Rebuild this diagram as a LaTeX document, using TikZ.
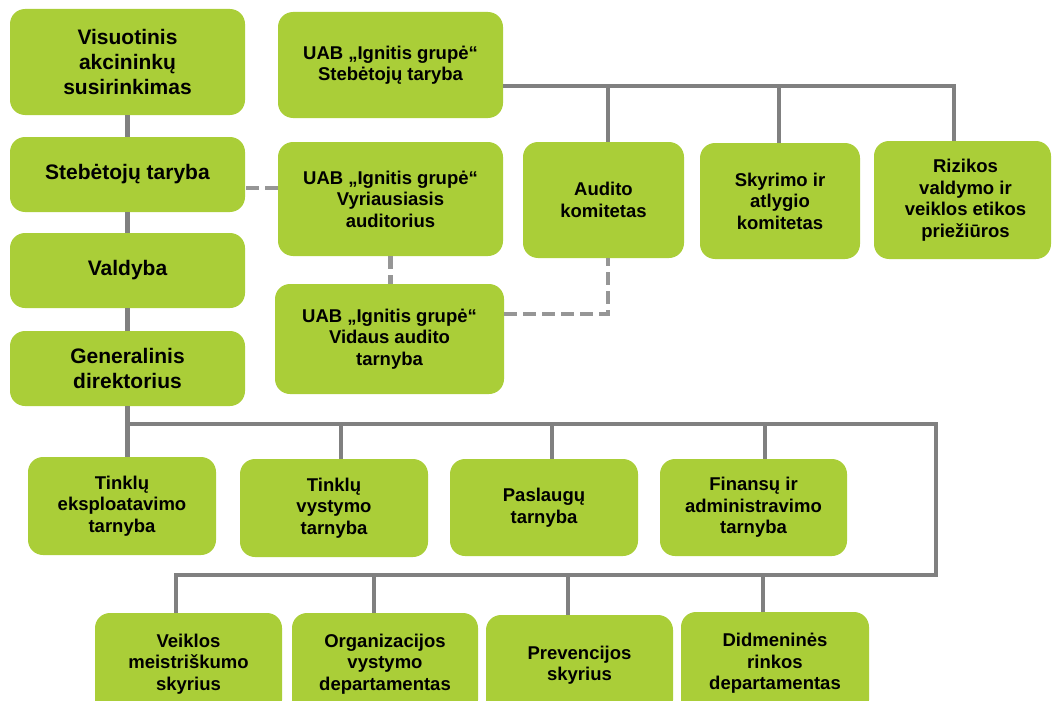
\documentclass[tikz,border=0pt]{standalone}
\usepackage{fontspec}
\setmainfont{Liberation Sans}
\definecolor{boxgreen}{RGB}{170,206,56}
\definecolor{linegray}{RGB}{128,128,128}
\definecolor{dashgray}{RGB}{150,150,150}
\begin{document}
\begin{tikzpicture}[x=1pt,y=-1pt,
  box/.style={fill=boxgreen, rounded corners=15pt, align=center, inner sep=0pt, text=black,
    font=\fontsize{18.5}{21.5}\selectfont\bfseries},
  bigbox/.style={box, font=\fontsize{21}{25}\selectfont\bfseries},
  conn/.style={draw=linegray, line width=4.5pt},
  dsh/.style={draw=dashgray, line width=4.5pt, dash pattern=on 13pt off 6pt}]
\useasboundingbox (0,0) rectangle (1052,701);
\clip (0,0) rectangle (1052,701);
% left column
\node[bigbox, minimum width=235, minimum height=106] (vis) at (127.5,62) {Visuotinis\\akcininkų\\susirinkimas};
\node[bigbox, minimum width=235, minimum height=75] (stt) at (127.5,174.5) {Stebėtojų taryba};
\node[bigbox, minimum width=235, minimum height=75] (val) at (127.5,270.5) {Valdyba};
\node[bigbox, minimum width=235, minimum height=75] (gen) at (127.5,368.5) {Generalinis\\direktorius};
% group boxes
\node[box, minimum width=225, minimum height=106] (ust) at (390.5,65) {UAB „Ignitis grupė“\\Stebėtojų taryba};
\node[box, minimum width=225, minimum height=114] (vyr) at (390.5,199) {UAB „Ignitis grupė“\\Vyriausiasis\\auditorius};
\node[box, minimum width=229, minimum height=110] (vid) at (389.5,339) {UAB „Ignitis grupė“\\Vidaus audito\\tarnyba};
% committees
\node[box, minimum width=161, minimum height=116] (aud) at (603.5,200) {Audito\\komitetas};
\node[box, minimum width=160, minimum height=116] (sky) at (780,201) {Skyrimo ir\\atlygio\\komitetas};
\node[box, minimum width=177, minimum height=118] (riz) at (962.5,200) {\hspace*{6pt}Rizikos\\\hspace*{6pt}valdymo ir\\\hspace*{6pt}veiklos etikos\\\hspace*{6pt}priežiūros};
% row 2
\node[box, minimum width=188, minimum height=98] (r2a) at (122,506) {Tinklų\\eksploatavimo\\tarnyba};
\node[box, minimum width=188, minimum height=98] (r2b) at (334,508) {Tinklų\\vystymo\\tarnyba};
\node[box, minimum width=188, minimum height=97] (r2c) at (544,507.5) {Paslaugų\\tarnyba};
\node[box, minimum width=187, minimum height=97] (r2d) at (753.5,507.5) {Finansų ir\\administravimo\\tarnyba};
% row 3
\node[box, minimum width=187, minimum height=102] (r3a) at (188.5,664) {Veiklos\\meistriškumo\\skyrius};
\node[box, minimum width=186, minimum height=102] (r3b) at (385,664) {Organizacijos\\vystymo\\departamentas};
\node[box, minimum width=187, minimum height=100] (r3c) at (579.5,665) {Prevencijos\\skyrius};
\node[box, minimum width=188, minimum height=103] (r3d) at (775,663.5) {Didmeninės\\rinkos\\departamentas};
% left column connectors
\draw[conn] (vis.south) -- (stt.north);
\draw[conn] (stt.south) -- (val.north);
\draw[conn] (val.south) -- (gen.north);
% top bus
\coordinate (tbl) at (503,86);
\coordinate (tbr) at (954,86);
\coordinate (tba) at (608,86);
\coordinate (tbs) at (779,86);
\draw[conn] (tbl) -- (tbr) -- (tbr |- riz.north);
\draw[conn] (tba) -- (tba |- aud.north);
\draw[conn] (tbs) -- (tbs |- sky.north);
% dashed connectors
\coordinate (d1) at (246,188);
\draw[dsh] (d1) -- (d1 -| vyr.west);
\draw[dsh] (vyr.south) -- (vyr.south |- vid.north);
\coordinate (d3) at (608,314);
\draw[dsh] (d3 -| vid.east) -- (d3) -- (d3 |- aud.south);
% row 2 bus
\coordinate (b2l) at (127.5,424);
\coordinate (b2r) at (936,424);
\coordinate (b3r) at (936,575);
\coordinate (b3l) at (176,575);
\draw[conn] (gen.south) -- (gen.south |- r2a.north);
\draw[conn] (b2l) -- (b2r) -- (b3r) -- (b3l) -- (b3l |- r3a.north);
\coordinate (t2b) at (341,424);
\coordinate (t2c) at (552,424);
\coordinate (t2d) at (765,424);
\draw[conn] (t2b) -- (t2b |- r2b.north);
\draw[conn] (t2c) -- (t2c |- r2c.north);
\draw[conn] (t2d) -- (t2d |- r2d.north);
\coordinate (t3b) at (374,575);
\coordinate (t3c) at (568,575);
\coordinate (t3d) at (763,575);
\draw[conn] (t3b) -- (t3b |- r3b.north);
\draw[conn] (t3c) -- (t3c |- r3c.north);
\draw[conn] (t3d) -- (t3d |- r3d.north);
\end{tikzpicture}
\end{document}
